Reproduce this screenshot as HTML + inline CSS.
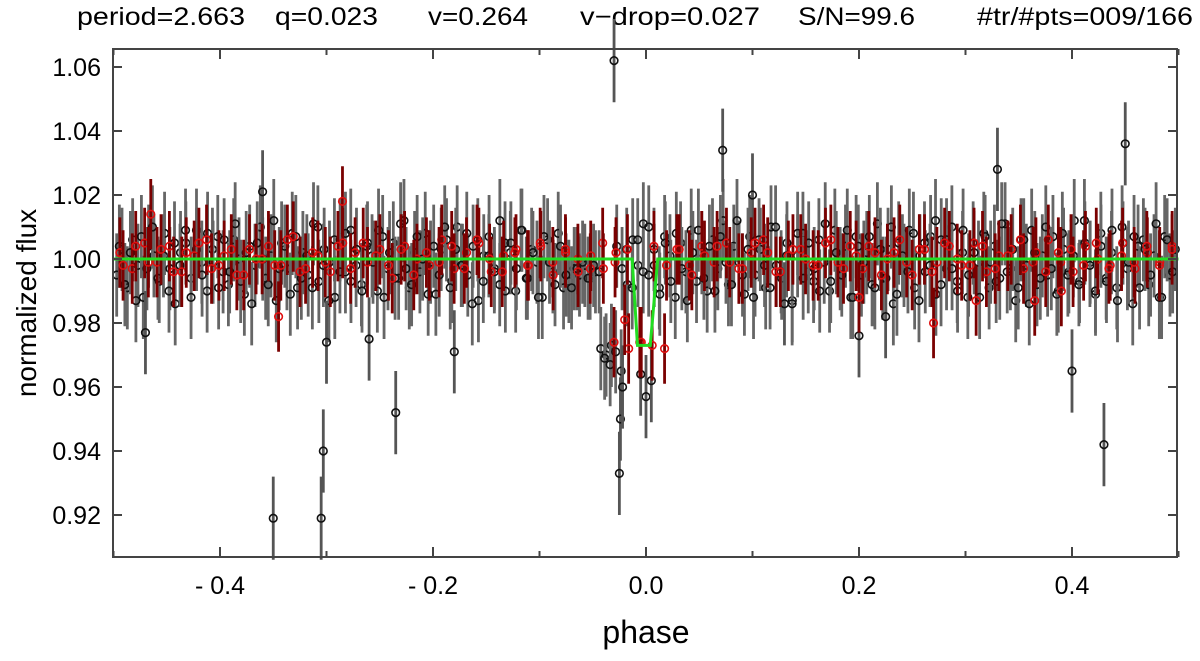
<!DOCTYPE html>
<html><head><meta charset="utf-8"><style>
body{margin:0;background:#fff}
svg{display:block;font-family:"Liberation Sans","DejaVu Sans",sans-serif}
</style></head><body>
<svg id="chart" width="1200" height="661" viewBox="0 0 1200 661">
<g font-size="25" fill="#000">
<text x="77" y="25" textLength="168" lengthAdjust="spacingAndGlyphs">period=2.663</text>
<text x="275" y="25" textLength="103" lengthAdjust="spacingAndGlyphs">q=0.023</text>
<text x="428" y="25" textLength="100" lengthAdjust="spacingAndGlyphs">v=0.264</text>
<text x="580" y="25" textLength="180" lengthAdjust="spacingAndGlyphs">v−drop=0.027</text>
<text x="798" y="25" textLength="117" lengthAdjust="spacingAndGlyphs">S/N=99.6</text>
<text x="977" y="25" textLength="216" lengthAdjust="spacingAndGlyphs">#tr/#pts=009/166</text>
</g>
<g id="marks"></g>
<rect x="113" y="49" width="1064" height="508" fill="none" stroke="#444" stroke-width="2"/>
<g id="axes"></g>
<text x="646" y="643" font-size="32" text-anchor="middle">phase</text>
<text transform="translate(36,303) rotate(-90)" font-size="28" text-anchor="middle">normalized flux</text>
</svg>
<script>
const xTicks=[-0.4,-0.2,0.0,0.2,0.4];
const xMinor=[-0.5,-0.3,-0.1,0.1,0.3,0.5];
const yTicks=[0.92,0.94,0.96,0.98,1.00,1.02,1.04,1.06];
const ERR=0.013;
const blackDev=[-5,3,-9,6,-2,-12,4,1,-7,8,-3,-14,2,5,-6,9,-1,-10,3,7,-4,-8,6,0,-11,4,-2,10,-6,1,-13,5,-3,8,-9,2,-5,11,-7,3,-1,-12,6,-4,9,-2,-8,4,1,-10,7,-3,5,-6,12,-9,2,-4,8,-1,-11,3,6,-7,10,-2,-5,4,-13,1,7,-3,-8,5,2,-10,9,-6,3,-1,-12,6,-4,8,-9,-7,-3,-5,-2,-6,-4,-28,-30,-27,4,-3,-8,6,-2,11,-5,3,-9,7,1,-12,5,-4,9,-7,2,-10,6,-3,12,-8,4,-1,-11,7,-5,3,-9,10,-2,-6,5,-13,1,8,-4,-7,6,-1,-10,9,-3,4,-12,7,-5,2,-8,11,-6,3,-14,5,-2,9,-9,1,-4,7,-11,6,-3,10,-7,2,-12,5,-1,8,-9,4,-6,11,-3,-13,6,-2,9,-8,1,-5,7,-10,3,-4,12,-7,5,-1,-11,8,-6,2,-9,10,-3,-14,4,6,-8,1,-12,7,-5,3];
const blackDev2=[4,-8,2,-13,7,-3,10,-6,1,-10,5,-2,9,-12,3,-5,8,-1,-9,6,-4,11,-7,2,-14,5,0,-8,12,-3,4,-11,7,-6,1,-9,10,-2,-13,6,-4,8,-7,3,-10,5,-1,9,-12,2,-6,11,-3,-8,7,0,-11,4,-5,10,-9,3,-2,8,-14,6,-7,1,-4,12,-10,5,-3,9,-6,2,-12,7,-1,-8,4,-5,-9,-3,-1,-6,-2,-4,-31,-33,-29,-35,3,-9,6,-4,10,-2,-11,5,-7,8,-3,-13,2,9,-6,4,-10,7,-1,-8,12,-5,3,-12,6,-2,-9,10,-4,1,-14,8,-6,5,-3,-10,11,-7,2,-5,9,-12,4,-1,7,-9,3,-6,10,-11,1,-4,8,-13,5,-2,12,-8,6,-3,-10,9,-5,2,-12,7,-1,-7,11,-4,3,-9,6,-14,2,-6,10,-3,-11,8,-5,1,-8,12,-2,-10,4,-7,9,-13,5,-1,7,-9,3,-5,11,-12,6,-4];
const blackOutPhase=[-0.47,-0.36,-0.35,-0.305,-0.303,-0.30,-0.26,-0.235,-0.18,-0.03,-0.025,-0.024,-0.022,0.0,-0.005,0.005,0.072,0.2,0.33,0.40,0.43,0.45,0.225,0.13,0.10];
const blackOutFlux=[0.977,1.021,0.919,0.919,0.940,0.974,0.975,0.952,0.971,1.062,0.933,0.950,0.960,0.957,0.964,0.962,1.034,0.976,1.028,0.965,0.942,1.036,0.982,0.986,1.020];
const redDev=[2,-3,5,-1,4,-4,1,6,-2,3,-5,0,4,-2,7,-3,1,-4,5,2,-1,3,-6,4,0,-2,6,-3,2,5,-4,1,3,-2,4,-5,2,0,-3,5,-1,3,-26,-27,-28,3,-2,4,-1,5,-3,2,6,-4,1,3,-2,5,-1,4,-3,2,0,6,-5,3,-1,4,-2,5,-4,1,3,-3,2,6,-1,-4,4,0,-2,5,-3,2,-1,4];
const redDev2=[-2,4,-1,3,-4,2,5,-3,1,-5,3,0,-2,6,-4,2,-1,4,-3,5,1,-2,3,-5,2,-1,4,-3,6,0,-4,2,-2,5,-1,3,-4,1,-3,2,-28,-26,4,-2,3,-5,1,4,-1,-3,5,2,-4,3,0,-2,6,-3,1,4,-5,2,-1,3,-4,5,0,-2,4,-3,1,6,-1,-4,2,3,-2,5,-3,1,-1,4,-2,3];
const redOutPhase=[-0.465,-0.345,-0.285,-0.03,-0.02,0.2,0.27,0.31,0.365,0.39];
const redOutFlux=[1.014,0.982,1.018,0.974,0.981,0.988,0.980,0.987,0.987,0.990];
const modelPhase=[-0.5,-0.013,-0.008,0.004,0.011,0.5];
const modelFlux=[1.0,1.0,0.973,0.973,1.0,1.0];

const X=p=>113.5+(p+0.5)*1065;
const Y=f=>259-(f-1.0)*3200;
const NS='http://www.w3.org/2000/svg';
const marks=document.getElementById('marks'), axes=document.getElementById('axes');
function mk(tag,attrs,parent){const e=document.createElementNS(NS,tag);for(const k in attrs)e.setAttribute(k,attrs[k]);parent.appendChild(e);return e;}
function point(p,f,err,barCol,ptCol,name){
  const g=mk('g',{},marks);
  
  
  mk('line',{x1:X(p),x2:X(p),y1:Y(f+err),y2:Y(f-err),stroke:barCol,'stroke-width':2.8},g);
  mk('circle',{cx:X(p),cy:Y(f),r:3.8,fill:'none',stroke:ptCol,'stroke-width':1.6},g);
}
blackDev.forEach((d,i)=>{const p=-0.497+i*0.994/(blackDev.length-1);point(p,1+d/1000,ERR,'#666','#111','black-point');});
blackDev2.forEach((d,i)=>{const p=-0.4945+i*0.989/(blackDev2.length-1);point(p,1+d/1000,ERR,'#666','#111','black-point');});
blackOutPhase.forEach((p,i)=>point(p,blackOutFlux[i],ERR,'#555','#111','black-outlier'));
redDev.forEach((d,i)=>{const p=-0.494+i*0.988/(redDev.length-1);point(p,1+d/1000,0.011,'#7a0000','#e01010','red-point');});
redDev2.forEach((d,i)=>{const p=-0.491+i*0.985/(redDev2.length-1);point(p,1+d/1000,0.011,'#7a0000','#e01010','red-point');});
redOutPhase.forEach((p,i)=>point(p,redOutFlux[i],0.011,'#7a0000','#e01010','red-outlier'));
const model=mk('polyline',{points:modelPhase.map((p,i)=>X(p)+','+Y(modelFlux[i])).join(' '),fill:'none',stroke:'#22dd22','stroke-width':3},marks);


xTicks.forEach(t=>{
  mk('line',{x1:X(t),x2:X(t),y1:557,y2:547,stroke:'#444','stroke-width':2},axes);
  mk('line',{x1:X(t),x2:X(t),y1:49,y2:59,stroke:'#444','stroke-width':2},axes);
  const tx=mk('text',{x:X(t),y:594,'font-size':25,'text-anchor':'middle'},axes);
  tx.textContent=(t<0?'- ':'')+Math.abs(t).toFixed(1);
  
  
});
xMinor.forEach(t=>{
  mk('line',{x1:X(t),x2:X(t),y1:557,y2:551,stroke:'#444','stroke-width':2},axes);
  mk('line',{x1:X(t),x2:X(t),y1:49,y2:55,stroke:'#444','stroke-width':2},axes);
});
yTicks.forEach(t=>{
  mk('line',{x1:113,x2:122,y1:Y(t),y2:Y(t),stroke:'#444','stroke-width':2},axes);
  mk('line',{x1:1177,x2:1168,y1:Y(t),y2:Y(t),stroke:'#444','stroke-width':2},axes);
  const tx=mk('text',{x:101,y:Y(t)+9,'font-size':25,'text-anchor':'end'},axes);
  tx.textContent=t.toFixed(2);
  
  
});
</script>
</body></html>
